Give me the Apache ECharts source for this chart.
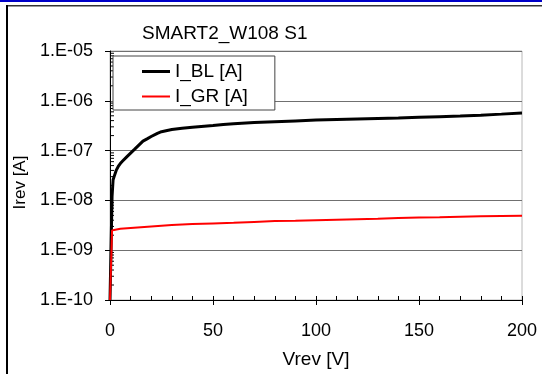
<!DOCTYPE html>
<html>
<head>
<meta charset="utf-8">
<script src="https://cdn.jsdelivr.net/npm/echarts@6/dist/echarts.min.js"></script>
<style>
html,body{margin:0;padding:0;background:#fff;}
#c{width:542px;height:374px;}
</style>
</head>
<body>
<div id="c"></div>
<script>
// ---- data ----
const titleText = 'SMART2_W108 S1';
const xName = 'Vrev [V]';
const yName = 'Irev [A]';
const seriesNames = ['I_BL [A]', 'I_GR [A]'];

const vBL = [0, 1, 1.5, 2, 3, 4, 5, 6, 8, 10, 12, 14, 16, 18, 20, 23, 25, 30, 35, 40, 50, 55, 60, 70, 80, 90, 100, 110, 120, 130, 140, 150, 160, 170, 180, 190, 200];
const iBL = [1e-10, 1.2e-8, 2.6e-8, 3.0e-8, 4.0e-8, 4.8e-8, 5.5e-8, 6.1e-8, 7.4e-8, 8.9e-8, 1.07e-7, 1.29e-7, 1.55e-7, 1.72e-7, 1.92e-7, 2.22e-7, 2.4e-7, 2.65e-7, 2.8e-7, 2.95e-7, 3.2e-7, 3.35e-7, 3.45e-7, 3.65e-7, 3.8e-7, 3.95e-7, 4.1e-7, 4.2e-7, 4.3e-7, 4.4e-7, 4.5e-7, 4.65e-7, 4.8e-7, 4.95e-7, 5.15e-7, 5.4e-7, 5.7e-7];

const vGR = [0, 1, 2, 5, 10, 20, 30, 40, 50, 60, 70, 80, 90, 100, 110, 120, 130, 140, 150, 160, 170, 180, 190, 200];
const iGR = [1e-10, 2.5e-9, 2.55e-9, 2.7e-9, 2.8e-9, 3.0e-9, 3.2e-9, 3.35e-9, 3.45e-9, 3.55e-9, 3.7e-9, 3.85e-9, 3.9e-9, 4.0e-9, 4.1e-9, 4.2e-9, 4.3e-9, 4.45e-9, 4.55e-9, 4.6e-9, 4.7e-9, 4.8e-9, 4.85e-9, 4.9e-9];

const yTickLabels = ['1.E-10', '1.E-09', '1.E-08', '1.E-07', '1.E-06', '1.E-05'];
const xTickLabels = ['0', '50', '100', '150', '200'];

// log-axis minor tick positions (mantissas 2..9 in each decade)
const minorMantissas = [2, 3, 4, 5, 6, 7, 8, 9];
const minorDecades = [-10, -9, -8, -7, -6];

// ---- build ----
const FONT = 'Liberation Sans, Arial, sans-serif';
const blData = vBL.map((v, i) => [v, iBL[i]]);
const grData = vGR.map((v, i) => [v, iGR[i]]);
const minorData = [];
minorDecades.forEach(e => minorMantissas.forEach(m => minorData.push([0, m * Math.pow(10, e)])));

// legend line icons (tiny corner specks fix the 28x14 box so the bar keeps its thickness)
const iconThick = 'path://M0,0H0.01V0.01H0Z M0,5.5H28V8.5H0Z M27.99,13.99H28V14H27.99Z';
const iconThin = 'path://M0,0H0.01V0.01H0Z M0,6H28V8H0Z M27.99,13.99H28V14H27.99Z';

const chart = echarts.init(document.getElementById('c'), null, {renderer: 'canvas'});
chart.setOption({
  animation: false,
  backgroundColor: '#fff',
  textStyle: {fontFamily: FONT},
  title: {
    text: titleText,
    left: 137, top: 19,
    textStyle: {fontFamily: FONT, fontSize: 19, fontWeight: 'normal', color: '#000'}
  },
  graphic: [
    {type: 'rect', shape: {x: 0, y: 0, width: 542, height: 2}, style: {fill: '#0000c8'}},
    {type: 'rect', shape: {x: 6, y: 5, width: 536, height: 1.5}, style: {fill: '#333'}},
    {type: 'rect', shape: {x: 6, y: 5, width: 2, height: 369}, style: {fill: '#000'}}
  ],
  legend: {
    orient: 'vertical',
    left: 113, top: 56,
    padding: [6, 27, 4, 29],
    itemWidth: 28, itemHeight: 14, itemGap: 6,
    backgroundColor: '#fff',
    borderColor: '#444', borderWidth: 1, borderRadius: 0,
    textStyle: {fontFamily: FONT, fontSize: 19, color: '#000'},
    data: [
      {name: seriesNames[0], icon: iconThick},
      {name: seriesNames[1], icon: iconThin}
    ]
  },
  grid: {
    left: 110, right: 20, top: 51, bottom: 71,
    show: true, borderColor: '#b8b8b8', borderWidth: 1, backgroundColor: 'transparent'
  },
  xAxis: [{
    type: 'value', min: 0, max: 200, interval: 50,
    name: xName, nameLocation: 'middle', nameGap: 50,
    nameTextStyle: {fontFamily: FONT, fontSize: 19, color: '#000'},
    axisLine: {show: true, onZero: false, lineStyle: {color: '#000', width: 1}},
    axisTick: {show: true, length: 5, lineStyle: {color: '#000'}},
    axisLabel: {margin: 22, fontFamily: FONT, fontSize: 18, color: '#000',
      formatter: (v) => xTickLabels[Math.round(v / 50)]},
    splitLine: {show: false}
  }, {
    type: 'value', min: 0, max: 200, interval: 10, position: 'bottom',
    axisLine: {show: false},
    axisTick: {show: true, inside: true, length: 4, lineStyle: {color: '#000'}},
    axisLabel: {show: false},
    splitLine: {show: false}
  }],
  yAxis: {
    type: 'log', logBase: 10, min: 1e-10, max: 1e-5,
    name: yName, nameLocation: 'middle', nameGap: 78,
    nameTextStyle: {fontFamily: FONT, fontSize: 17, color: '#000', padding: [0, 14, 0, 0]},
    axisLine: {show: true, lineStyle: {color: '#000', width: 1}},
    axisTick: {show: true, length: 5, lineStyle: {color: '#000'}},
    axisLabel: {margin: 17, fontFamily: FONT, fontSize: 18, color: '#000',
      formatter: (v) => yTickLabels[Math.round(Math.log10(v)) + 10]},
    splitLine: {show: true, lineStyle: {color: '#707070', width: 1}}
  },
  series: [
    {
      name: seriesNames[0], type: 'line', data: blData, showSymbol: false, symbol: 'none',
      lineStyle: {color: '#000', width: 3}, itemStyle: {color: '#000'}, z: 3
    },
    {
      name: seriesNames[1], type: 'line', data: grData, showSymbol: false, symbol: 'none',
      lineStyle: {color: '#ff0000', width: 2}, itemStyle: {color: '#ff0000'}, z: 4
    },
    {
      type: 'custom', data: minorData, silent: true, z: 2,
      encode: {x: 0, y: 1},
      renderItem: function (params, api) {
        const p = api.coord([api.value(0), api.value(1)]);
        return {type: 'line', shape: {x1: p[0], y1: p[1], x2: p[0] + 4, y2: p[1]},
          style: {stroke: '#000', lineWidth: 1}};
      }
    }
  ]
});
</script>
</body>
</html>
